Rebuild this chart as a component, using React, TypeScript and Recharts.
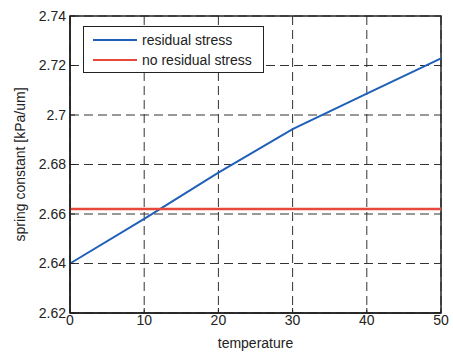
import { LineChart, Line, XAxis, YAxis, CartesianGrid, ReferenceArea } from "recharts";

// temperature samples and spring constants
const temperature = [0, 10, 20, 30, 40, 50];
const residualStress = [2.64, 2.658, 2.6767, 2.6943, 2.7086, 2.7229];
const noResidualStress = [2.662, 2.662, 2.662, 2.662, 2.662, 2.662];

const xTicks = [0, 10, 20, 30, 40, 50];
const yTicks = [2.62, 2.64, 2.66, 2.68, 2.7, 2.72, 2.74];

const seriesNames = ["residual stress", "no residual stress"];
const seriesColors = ["#2160b8", "#e8473b"];

const chartData = temperature.map((t, i) => ({
  temperature: t,
  residual: residualStress[i],
  noResidual: noResidualStress[i],
}));

const font = "'Liberation Sans', Arial, Helvetica, sans-serif";

// boxed legend like the MATLAB one, laid over the plot
function BoxLegend() {
  return (
    <div
      style={{
        position: "absolute",
        left: 83,
        top: 26,
        border: "1px solid #222",
        background: "#fff",
        width: 181,
        height: 47,
        boxSizing: "border-box",
        fontFamily: font,
        fontSize: 14,
        color: "#222",
        paddingTop: 3,
      }}
    >
      {seriesNames.map((name, i) => (
        <div key={name} style={{ display: "flex", alignItems: "center", height: 20, paddingLeft: 9 }}>
          <div style={{ width: 44, height: 2, background: seriesColors[i], marginRight: 5 }} />
          <span>{name}</span>
        </div>
      ))}
    </div>
  );
}

export default function App() {
  return (
    <div style={{ position: "absolute", left: 0, top: 0, width: 453, height: 354, background: "#fff" }}>
      <LineChart
        width={453}
        height={354}
        data={chartData}
        margin={{ top: 16, right: 12, left: 0, bottom: 0 }}
        style={{ fontFamily: font }}
      >
        <CartesianGrid stroke="#333" strokeDasharray="9 5" strokeWidth={1} />
        <XAxis
          dataKey="temperature"
          type="number"
          domain={[0, 50]}
          ticks={xTicks}
          height={41}
          tickSize={-5}
          tickMargin={7}
          tick={{ fill: "#222", fontSize: 14 }}
          axisLine={{ stroke: "#222", strokeWidth: 1.5 }}
          tickLine={{ stroke: "#222" }}
          label={{ value: "temperature", position: "insideBottom", offset: 6, fill: "#222", fontSize: 14 }}
        />
        <YAxis
          type="number"
          domain={[2.62, 2.74]}
          ticks={yTicks}
          width={70}
          tickSize={-5}
          tickMargin={9}
          allowDataOverflow
          tickFormatter={(v: number) => String(+v.toFixed(2))}
          tick={{ fill: "#222", fontSize: 14 }}
          axisLine={{ stroke: "#222", strokeWidth: 1.5 }}
          tickLine={{ stroke: "#222" }}
          label={{
            value: "spring constant [kPa/um]",
            angle: -90,
            position: "insideLeft",
            offset: 20,
            style: { textAnchor: "middle" },
            fill: "#222",
            fontSize: 14,
          }}
        />
        <ReferenceArea x1={0} x2={50} y1={2.62} y2={2.74} fill="none" stroke="#222" strokeWidth={1.5} ifOverflow="visible" />
        <Line
          dataKey="residual"
          name={seriesNames[0]}
          stroke={seriesColors[0]}
          strokeWidth={2}
          dot={false}
          isAnimationActive={false}
        />
        <Line
          dataKey="noResidual"
          name={seriesNames[1]}
          stroke={seriesColors[1]}
          strokeWidth={2.5}
          dot={false}
          isAnimationActive={false}
        />
      </LineChart>
      <BoxLegend />
    </div>
  );
}
